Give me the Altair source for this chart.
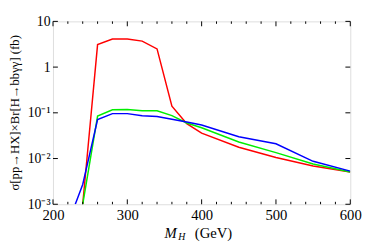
import altair as alt
import pandas as pd

# Data
mh_red = [240, 260, 280, 300, 320, 340, 360, 380, 400, 450, 500, 550, 600]
sig_red = [0.001, 3.1, 4.1, 4.1, 3.7, 2.5, 0.14, 0.058, 0.036, 0.0177, 0.0105, 0.0069, 0.0051]

mh_green = [240, 260, 280, 300, 320, 340, 360, 380, 400, 450, 500, 550, 600]
sig_green = [0.001, 0.085, 0.117, 0.118, 0.111, 0.111, 0.087, 0.060, 0.047, 0.023, 0.0135, 0.0076, 0.0051]

mh_blue = [230, 240, 260, 280, 300, 320, 340, 360, 380, 400, 450, 500, 550, 600]
sig_blue = [0.001, 0.0027, 0.0715, 0.096, 0.096, 0.086, 0.083, 0.072, 0.063, 0.054, 0.030, 0.021, 0.0087, 0.0053]

x_major = [200, 300, 400, 500, 600]
x_minor = [v for v in range(200, 601, 20) if v % 100 != 0]
y_major = [0.001, 0.01, 0.1, 1, 10]

W, H = 304, 187
FONT = "Liberation Serif"

xs = alt.Scale(domain=[200, 600], nice=False, zero=False)
ys = alt.Scale(type="log", domain=[0.001, 10], nice=False)

label_expr = ("datum.value == 10 ? '10' : datum.value == 1 ? '1' : "
              "datum.value == 0.1 ? '10⁻¹' : datum.value == 0.01 ? '10⁻²' : '10⁻³'")

def line(mh, sig, color):
    df = pd.DataFrame({"mh": mh, "sig": sig})
    return alt.Chart(df).mark_line(color=color, strokeWidth=1.5, clip=True).encode(
        x=alt.X("mh:Q", scale=xs,
                axis=alt.Axis(values=x_major, tickSize=0, domain=False, grid=False, title=None,
                              labelFlush=False, labelOverlap=False,
                              labelFont=FONT, labelFontSize=15, labelPadding=4, labelColor="black")),
        y=alt.Y("sig:Q", scale=ys,
                axis=alt.Axis(values=y_major, labelExpr=label_expr, tickSize=0, domain=False, grid=False,
                              labelFlush=False, labelOverlap=False,
                              labelFont=FONT, labelFontSize=14, labelPadding=3, labelColor="black",
                              title="σ[pp→HX]×Br[H→bbγγ] (fb)", titleFont=FONT, titleFontSize=13,
                              titleFontWeight="normal", titleColor="black", titleX=-39, titleY=93,
                              titleAngle=270, titleAlign="center", titleBaseline="middle")),
    )

base_x_major = pd.DataFrame({"v": x_major})
base_x_minor = pd.DataFrame({"v": x_minor})
base_y_major = pd.DataFrame({"v": y_major})

def xticks(df, length):
    bottom = alt.Chart(df).mark_rule(color="black", strokeWidth=1).encode(
        x=alt.X("v:Q", scale=xs), y=alt.value(H), y2=alt.value(H - length))
    top = alt.Chart(df).mark_rule(color="black", strokeWidth=1).encode(
        x=alt.X("v:Q", scale=xs), y=alt.value(0), y2=alt.value(length))
    return bottom + top

def yticks(df, length):
    left = alt.Chart(df).mark_rule(color="black", strokeWidth=1).encode(
        y=alt.Y("v:Q", scale=ys), x=alt.value(0), x2=alt.value(length))
    right = alt.Chart(df).mark_rule(color="black", strokeWidth=1).encode(
        y=alt.Y("v:Q", scale=ys), x=alt.value(W), x2=alt.value(W - length))
    return left + right

title_df = pd.DataFrame({"t": [0]})
t_m = alt.Chart(title_df).mark_text(text="M", font=FONT, fontSize=15, fontStyle="italic",
                                    align="left", baseline="alphabetic", color="black").encode(
    x=alt.value(114), y=alt.value(221))
t_h = alt.Chart(title_df).mark_text(text="H", font=FONT, fontSize=10, fontStyle="italic",
                                    align="left", baseline="alphabetic", color="black").encode(
    x=alt.value(128), y=alt.value(224))
t_g = alt.Chart(title_df).mark_text(text="(GeV)", font=FONT, fontSize=15,
                                    align="left", baseline="alphabetic", color="black").encode(
    x=alt.value(145), y=alt.value(221))

chart = alt.layer(
    line(mh_red, sig_red, "#ff0000"),
    line(mh_green, sig_green, "#00ee00"),
    line(mh_blue, sig_blue, "#0000ff"),
    xticks(base_x_major, 5),
    xticks(base_x_minor, 2.5),
    yticks(base_y_major, 5),
    t_m, t_h, t_g,
).properties(
    width=W, height=H,
    autosize=alt.AutoSizeParams(type="none"),
    padding={"left": 46, "top": 11, "right": 13, "bottom": 40},
).configure_view(stroke="black", strokeWidth=1).configure(background="white")

chart.save("out.html", embed_options={"renderer": "svg", "actions": False})
